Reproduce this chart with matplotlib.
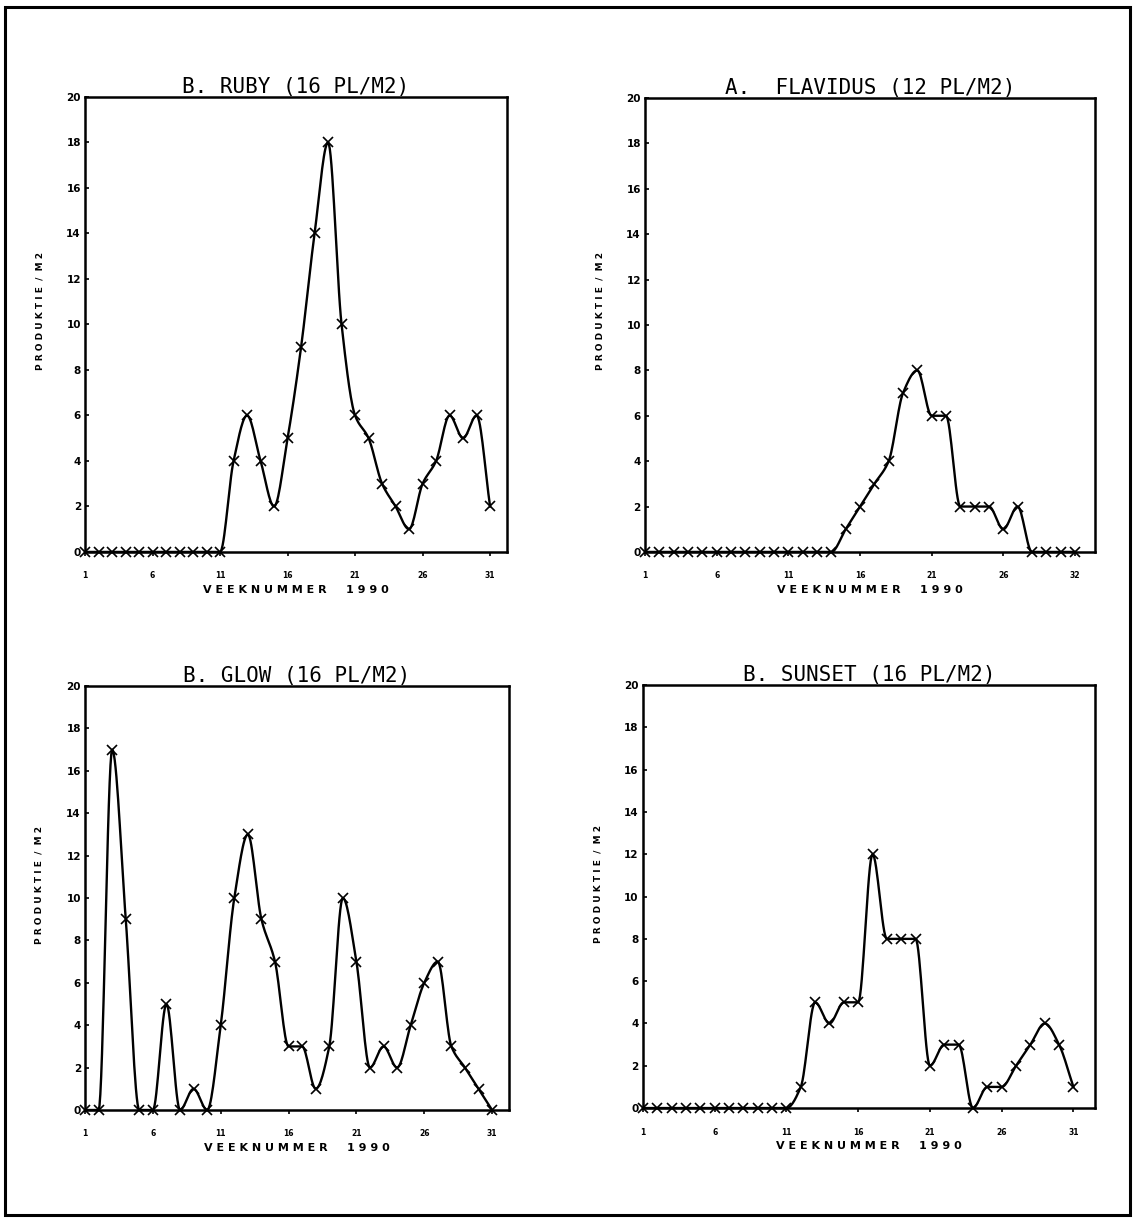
import numpy as np
import matplotlib
matplotlib.use("Agg")
import matplotlib.pyplot as plt
from matplotlib.patches import Rectangle

#
# data (weeks 1..31, produktie per m2)
#
weeks = list(range(1, 32))
ruby = [0, 0, 0, 0, 0, 0, 0, 0, 0, 0, 0,
        4, 6, 4, 2, 5, 9, 14, 18, 10, 6, 5, 3, 2, 1, 3, 4, 6, 5, 6, 2]
flavidus = [0, 0, 0, 0, 0, 0, 0, 0, 0, 0, 0, 0, 0, 0,
            1, 2, 3, 4, 7, 8, 6, 6, 2, 2, 2, 1, 2, 0, 0, 0, 0]
glow = [0, 0, 17, 9, 0, 0, 5, 0, 1, 0, 4, 10, 13, 9, 7, 3, 3, 1, 3, 10,
        7, 2, 3, 2, 4, 6, 7, 3, 2, 1, 0]
sunset = [0, 0, 0, 0, 0, 0, 0, 0, 0, 0, 0,
          1, 5, 4, 5, 5, 12, 8, 8, 8, 2, 3, 3, 0, 1, 1, 2, 3, 4, 3, 1]

titles = ["B. RUBY (16 PL/M2)", "A.  FLAVIDUS (12 PL/M2)",
          "B. GLOW (16 PL/M2)", "B. SUNSET (16 PL/M2)"]
x_ticks = [1, 6, 11, 16, 21, 26, 31]
x_labels = ["1", "6", "11", "16", "21", "26", "31"]
x_labels_flav = ["1", "6", "11", "16", "21", "26", "32"]
y_ticks = [0, 2, 4, 6, 8, 10, 12, 14, 16, 18, 20]
y_text = "P R O D U K T I E  /  M 2"
x_text = "V E E K N U M M E R     1 9 9 0"


def smooth(x, y, n=16):
  # monotone cubic (pchip) path through the points, for the drawn line only
  x = np.asarray(x, float)
  y = np.asarray(y, float)
  h = np.diff(x)
  delta = np.diff(y) / h
  d = np.zeros_like(y)
  for k in range(1, len(x) - 1):
    if delta[k - 1] * delta[k] > 0:
      w1 = 2 * h[k] + h[k - 1]
      w2 = h[k] + 2 * h[k - 1]
      d[k] = (w1 + w2) / (w1 / delta[k - 1] + w2 / delta[k])
  d[0] = delta[0]
  d[-1] = delta[-1]
  xs, ys = [], []
  for k in range(len(x) - 1):
    t = np.linspace(0, 1, n, endpoint=False)
    h00 = 2 * t**3 - 3 * t**2 + 1
    h10 = t**3 - 2 * t**2 + t
    h01 = -2 * t**3 + 3 * t**2
    h11 = t**3 - t**2
    xs.append(x[k] + t * h[k])
    ys.append(h00 * y[k] + h10 * h[k] * d[k] + h01 * y[k + 1] + h11 * h[k] * d[k + 1])
  xs.append([x[-1]])
  ys.append([y[-1]])
  return np.concatenate(xs), np.concatenate(ys)


fig = plt.figure(figsize=(11.37, 12.26), dpi=100)

panels = [
  (ruby, titles[0], [0.0748, 0.5498, 0.3712, 0.3711], 32.26, x_labels, -0.097),
  (flavidus, titles[1], [0.5673, 0.5498, 0.3958, 0.3703], 32.4, x_labels_flav, -0.089),
  (glow, titles[2], [0.0748, 0.0946, 0.3729, 0.3458], 32.25, x_labels, -0.097),
  (sunset, titles[3], [0.5655, 0.0962, 0.3975, 0.3450], 32.5, x_labels, -0.089),
]

for values, title, rect, xmax, xlabs, ylab_x in panels:
  ax = fig.add_axes(rect)
  sx, sy = smooth(weeks, values)
  ax.plot(sx, sy, color="black", lw=1.7, clip_on=False)
  ax.plot(weeks, values, "x", color="black", ms=6.5, mew=1.2, clip_on=False)
  ax.set_xlim(1, xmax)
  ax.set_ylim(0, 20)
  for s in ax.spines.values():
    s.set_linewidth(1.8)

  ax.set_xticks(x_ticks)
  ax.set_xticklabels(xlabs)
  ax.set_yticks(y_ticks)
  ax.tick_params(axis="x", direction="out", length=3, width=1.2, labelsize=5.5, pad=11)
  ax.tick_params(axis="y", direction="in", length=3, width=1.2, labelsize=7.5, pad=3)
  for lab in ax.get_xticklabels() + ax.get_yticklabels():
    lab.set_fontweight("heavy")

  ax.set_title(title, fontsize=15, pad=3, family="DejaVu Sans Mono")
  ax.set_ylabel(y_text, fontsize=6.5, fontweight="heavy")
  ax.yaxis.set_label_coords(ylab_x, 0.53)
  ax.set_xlabel(x_text, fontsize=8, fontweight="heavy", labelpad=3)

# outer frame round the whole page
fig.add_artist(Rectangle((5 / 1137, 1 - 1215 / 1226), 1125 / 1137, 1208 / 1226,
                         transform=fig.transFigure, fill=False, lw=2.2, ec="black"))

fig.savefig("out.png", dpi=100)
